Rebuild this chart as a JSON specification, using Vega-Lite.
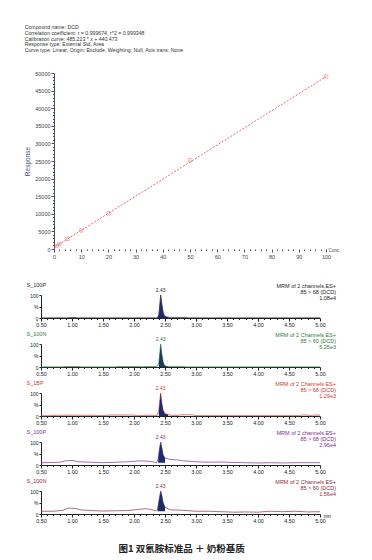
{
  "$schema": "https://vega.github.io/schema/vega-lite/v6.json",
  "padding": {"left": 24, "top": 25, "right": 10, "bottom": 4},
  "config": {
    "view": {"stroke": null},
    "font": "Liberation Sans",
    "axis": {"grid": false, "labelFont": "Liberation Sans", "titleFont": "Liberation Sans"}
  },
  "title": {"text": "图1  双氰胺标准品 ＋ 奶粉基质", "orient": "bottom", "anchor": "middle", "font": "Noto Sans CJK SC", "fontSize": 9.5, "fontWeight": "bold", "color": "#222", "offset": 20},
  "datasets": {
    "cal": [
      {"conc": 1, "resp": 930}, {"conc": 2, "resp": 1450}, {"conc": 5, "resp": 2900},
      {"conc": 10, "resp": 5250}, {"conc": 20, "resp": 10100}, {"conc": 50, "resp": 25200}, {"conc": 100, "resp": 49000}
    ],
    "fit": [{"conc": 0.6, "resp": 730}, {"conc": 100, "resp": 48963}],
    "chrom": [
      {"p":1,"t":0.5,"i":0.5},{"p":1,"t":0.92,"i":0.5},{"p":1,"t":0.95,"i":1.8},{"p":1,"t":1.0,"i":2},{"p":1,"t":1.07,"i":1.8},{"p":1,"t":1.1,"i":0.5},{"p":1,"t":1.5,"i":0.5},{"p":1,"t":2.0,"i":0.5},{"p":1,"t":2.35,"i":0.5},{"p":1,"t":2.38,"i":1.5},{"p":1,"t":2.4,"i":15},{"p":1,"t":2.42,"i":70},{"p":1,"t":2.43,"i":100,"lab":"2.43"},{"p":1,"t":2.45,"i":60},{"p":1,"t":2.47,"i":25},{"p":1,"t":2.49,"i":10},{"p":1,"t":2.52,"i":5},{"p":1,"t":2.56,"i":3},{"p":1,"t":2.6,"i":2.5},{"p":1,"t":2.75,"i":2.5},{"p":1,"t":2.85,"i":2.5},{"p":1,"t":2.88,"i":0.5},{"p":1,"t":3.5,"i":0.5},{"p":1,"t":4.0,"i":0.5},{"p":1,"t":4.5,"i":0.5},{"p":1,"t":5.0,"i":0.5},
      {"p":2,"t":0.5,"i":0.5},{"p":2,"t":0.85,"i":0.5},{"p":2,"t":0.88,"i":2},{"p":2,"t":1.12,"i":2},{"p":2,"t":1.15,"i":0.5},{"p":2,"t":1.7,"i":0.5},{"p":2,"t":1.73,"i":2},{"p":2,"t":2.1,"i":2},{"p":2,"t":2.13,"i":0.5},{"p":2,"t":2.18,"i":2},{"p":2,"t":2.34,"i":2},{"p":2,"t":2.37,"i":1.5},{"p":2,"t":2.4,"i":15},{"p":2,"t":2.42,"i":70},{"p":2,"t":2.43,"i":100,"lab":"2.43"},{"p":2,"t":2.45,"i":55},{"p":2,"t":2.47,"i":22},{"p":2,"t":2.49,"i":8},{"p":2,"t":2.52,"i":3},{"p":2,"t":2.55,"i":2.5},{"p":2,"t":2.8,"i":2.5},{"p":2,"t":2.83,"i":0.5},{"p":2,"t":3.5,"i":0.5},{"p":2,"t":4.0,"i":0.5},{"p":2,"t":4.5,"i":0.5},{"p":2,"t":5.0,"i":0.5},
      {"p":3,"t":0.5,"i":1},{"p":3,"t":0.62,"i":1},{"p":3,"t":0.65,"i":3},{"p":3,"t":0.85,"i":3},{"p":3,"t":0.9,"i":3.5},{"p":3,"t":1.1,"i":3.5},{"p":3,"t":1.15,"i":3},{"p":3,"t":1.4,"i":3},{"p":3,"t":1.45,"i":1.5},{"p":3,"t":1.55,"i":1.5},{"p":3,"t":1.58,"i":4},{"p":3,"t":2.0,"i":4},{"p":3,"t":2.03,"i":1.5},{"p":3,"t":2.15,"i":1.5},{"p":3,"t":2.18,"i":3},{"p":3,"t":2.33,"i":3},{"p":3,"t":2.37,"i":2},{"p":3,"t":2.4,"i":20},{"p":3,"t":2.42,"i":75},{"p":3,"t":2.43,"i":100,"lab":"2.43"},{"p":3,"t":2.45,"i":55},{"p":3,"t":2.47,"i":25},{"p":3,"t":2.5,"i":10},{"p":3,"t":2.55,"i":6},{"p":3,"t":2.6,"i":3},{"p":3,"t":2.72,"i":3},{"p":3,"t":2.75,"i":5},{"p":3,"t":2.95,"i":5},{"p":3,"t":2.98,"i":1.5},{"p":3,"t":3.5,"i":1.5},{"p":3,"t":4.0,"i":1.5},{"p":3,"t":4.68,"i":1.5},{"p":3,"t":4.7,"i":4},{"p":3,"t":4.8,"i":4},{"p":3,"t":4.83,"i":1.5},{"p":3,"t":4.88,"i":1.5},{"p":3,"t":4.9,"i":4},{"p":3,"t":5.0,"i":4},
      {"p":4,"t":0.5,"i":10},{"p":4,"t":0.7,"i":11},{"p":4,"t":0.8,"i":12},{"p":4,"t":0.9,"i":18},{"p":4,"t":1.0,"i":20},{"p":4,"t":1.1,"i":14},{"p":4,"t":1.3,"i":12},{"p":4,"t":1.5,"i":10},{"p":4,"t":1.7,"i":12},{"p":4,"t":1.9,"i":14},{"p":4,"t":2.0,"i":16},{"p":4,"t":2.1,"i":18},{"p":4,"t":2.2,"i":17},{"p":4,"t":2.3,"i":14},{"p":4,"t":2.36,"i":10},{"p":4,"t":2.39,"i":25},{"p":4,"t":2.41,"i":70},{"p":4,"t":2.43,"i":100,"lab":"2.43"},{"p":4,"t":2.45,"i":75},{"p":4,"t":2.47,"i":45},{"p":4,"t":2.5,"i":30},{"p":4,"t":2.55,"i":26},{"p":4,"t":2.6,"i":24},{"p":4,"t":2.7,"i":22},{"p":4,"t":2.8,"i":18},{"p":4,"t":2.9,"i":16},{"p":4,"t":3.0,"i":14},{"p":4,"t":3.2,"i":12},{"p":4,"t":3.4,"i":13},{"p":4,"t":3.6,"i":11},{"p":4,"t":3.8,"i":10},{"p":4,"t":4.0,"i":9},{"p":4,"t":4.2,"i":10},{"p":4,"t":4.4,"i":9},{"p":4,"t":4.6,"i":10},{"p":4,"t":4.8,"i":10},{"p":4,"t":5.0,"i":10},
      {"p":5,"t":0.5,"i":12},{"p":5,"t":0.7,"i":12},{"p":5,"t":0.85,"i":16},{"p":5,"t":0.95,"i":26},{"p":5,"t":1.05,"i":24},{"p":5,"t":1.15,"i":18},{"p":5,"t":1.3,"i":15},{"p":5,"t":1.5,"i":13},{"p":5,"t":1.7,"i":14},{"p":5,"t":1.9,"i":15},{"p":5,"t":2.0,"i":18},{"p":5,"t":2.1,"i":21},{"p":5,"t":2.2,"i":23},{"p":5,"t":2.3,"i":18},{"p":5,"t":2.35,"i":14},{"p":5,"t":2.38,"i":20},{"p":5,"t":2.41,"i":70},{"p":5,"t":2.43,"i":100,"lab":"2.43"},{"p":5,"t":2.45,"i":80},{"p":5,"t":2.47,"i":50},{"p":5,"t":2.5,"i":30},{"p":5,"t":2.55,"i":22},{"p":5,"t":2.6,"i":18},{"p":5,"t":2.8,"i":16},{"p":5,"t":3.0,"i":12},{"p":5,"t":3.2,"i":12},{"p":5,"t":3.4,"i":10},{"p":5,"t":3.6,"i":8},{"p":5,"t":3.8,"i":9},{"p":5,"t":4.0,"i":8},{"p":5,"t":4.2,"i":12},{"p":5,"t":4.4,"i":10},{"p":5,"t":4.6,"i":12},{"p":5,"t":4.8,"i":9},{"p":5,"t":5.0,"i":10}
    ]
  },
  "spacing": 22,
  "vconcat": [
    {
      "width": 285, "height": 176,
      "title": {"text": ["Compound name: DCD", "Correlation coefficient: r = 0.999674, r^2 = 0.999348", "Calibration curve: 485.223 * x + 440.473", "Response type: External Std, Area", "Curve type: Linear, Origin: Exclude, Weighting: Null, Axis trans: None"], "anchor": "start", "frame": "bounds", "fontSize": 5.2, "lineHeight": 5.6, "fontWeight": "normal", "color": "#333", "offset": 18},
      "encoding": {
        "x": {"field": "conc", "type": "quantitative", "scale": {"domain": [-4.78, 100], "nice": false, "zero": false},
          "axis": {"values": [0,2,4,6,8,10,12,14,16,18,20,22,24,26,28,30,32,34,36,38,40,42,44,46,48,50,52,54,56,58,60,62,64,66,68,70,72,74,76,78,80,82,84,86,88,90,92,94,96,98,100],
            "labelExpr": "datum.value % 10 == 0 ? format(datum.value, 'd') : ''", "labelOverlap": false, "labelFlush": false, "domain": false,
            "tickSize": {"condition": {"test": "datum.value % 10 == 0", "value": 3}, "value": 1.5},
            "labelFontSize": 5.5, "labelColor": "#3a3f55", "tickColor": "#4a4f60", "labelPadding": 2,
            "title": "Conc", "titleFontSize": 4.5, "titleFontWeight": "normal", "titleColor": "#3a3f55", "titleAngle": 0, "titleAlign": "left", "titleX": 287, "titleY": 1, "titleBaseline": "middle"}},
        "y": {"field": "resp", "type": "quantitative", "scale": {"domain": [0, 50000], "nice": false},
          "axis": {"offset": -13, "values": [0,1000,2000,3000,4000,5000,6000,7000,8000,9000,10000,11000,12000,13000,14000,15000,16000,17000,18000,19000,20000,21000,22000,23000,24000,25000,26000,27000,28000,29000,30000,31000,32000,33000,34000,35000,36000,37000,38000,39000,40000,41000,42000,43000,44000,45000,46000,47000,48000,49000,50000],
            "labelExpr": "datum.value % 5000 == 0 ? format(datum.value, 'd') : ''", "labelOverlap": false, "labelFlush": false,
            "tickSize": {"condition": {"test": "datum.value % 5000 == 0", "value": 3}, "value": 1.5},
            "labelFontSize": 5.5, "labelColor": "#3a3f55", "domainColor": "#4a4f60", "tickColor": "#4a4f60", "labelPadding": 1,
            "title": "Response", "titleFontSize": 6.5, "titleFontWeight": "normal", "titleColor": "#3d4a8a", "titlePadding": 4}}
      },
      "layer": [
        {"data": {"values": [{}]}, "mark": {"type": "rule", "color": "#4a4f60", "strokeWidth": 1}, "encoding": {"x": {"datum": 0}, "x2": {"datum": 100}, "y": {"datum": 0}}},
        {"data": {"name": "fit"}, "mark": {"type": "line", "color": "#d9434a", "strokeWidth": 0.8, "strokeDash": [2, 1.5]}},
        {"data": {"name": "cal"}, "mark": {"type": "point", "shape": "cross", "angle": 45, "color": "#d9434a", "size": 16, "strokeWidth": 0.7, "filled": false}}
      ]
    },
    {
      "spacing": 3,
      "vconcat": [
        {
          "width": 279, "height": 23,
          "title": {"text": ["MRM of 2 channels,ES+", "85 > 68 (DCD)", "1.08e4"], "anchor": "end", "frame": "group", "align": "right", "color": "#1e1e1e", "fontSize": 5.5, "fontWeight": "normal", "lineHeight": 6, "dx": 16, "offset": -19},
          "data": {"name": "chrom"},
          "transform": [{"filter": "datum.p == 1"}],
          "encoding": {
            "x": {"field": "t", "type": "quantitative", "scale": {"domain": [0.5, 5.0], "nice": false},
              "axis": {"values": [0.5,0.6,0.7,0.8,0.9,1.0,1.1,1.2,1.3,1.4,1.5,1.6,1.7,1.8,1.9,2.0,2.1,2.2,2.3,2.4,2.5,2.6,2.7,2.8,2.9,3.0,3.1,3.2,3.3,3.4,3.5,3.6,3.7,3.8,3.9,4.0,4.1,4.2,4.3,4.4,4.5,4.6,4.7,4.8,4.9,5.0],
                "labelExpr": "round(datum.value*10) % 5 == 0 ? format(datum.value, '.2f') : ''", "labelOverlap": false, "labelFlush": false,
                "tickSize": {"condition": {"test": "round(datum.value*10) % 5 == 0", "value": 3}, "value": 1.5},
                "labelFontSize": 5.5, "labelColor": "#222", "domainColor": "#222", "tickColor": "#222", "labelPadding": 1, "title": null}},
            "y": {"field": "i", "type": "quantitative", "scale": {"domain": [0, 100], "nice": false},
              "axis": {"values": [0, 50, 100], "labelExpr": "datum.value == 50 ? '%' : datum.label", "labelFontSize": 5, "labelColor": "#222", "domainColor": "#222", "tickColor": "#222", "tickSize": 2, "labelPadding": 1,
                "title": "S_100P", "titleAngle": 0, "titleAlign": "left", "titleBaseline": "middle", "titleX": -15, "titleY": -11, "titleFontSize": 5.5, "titleFontWeight": "normal", "titleColor": "#1e1e1e"}}
          },
          "layer": [
            {"mark": {"type": "line", "color": "#1e1e1e", "strokeWidth": 0.7}},
            {"transform": [{"filter": "datum.t >= 2.38 && datum.t <= 2.56"}], "mark": {"type": "area", "color": "#1d2b6b"}, "encoding": {"y2": {"datum": 0}}},
            {"transform": [{"filter": "isValid(datum.lab)"}], "mark": {"type": "text", "dy": -5, "fontSize": 5, "color": "#1e1e1e"}, "encoding": {"text": {"field": "lab"}}}
          ]
        },
        {
          "width": 279, "height": 23,
          "title": {"text": ["MRM of 2 Channels ES+", "85 > 60 (DCD)", "5.25e3"], "anchor": "end", "frame": "group", "align": "right", "color": "#2f7d3c", "fontSize": 5.5, "fontWeight": "normal", "lineHeight": 6, "dx": 16, "offset": -19},
          "data": {"name": "chrom"},
          "transform": [{"filter": "datum.p == 2"}],
          "encoding": {
            "x": {"field": "t", "type": "quantitative", "scale": {"domain": [0.5, 5.0], "nice": false},
              "axis": {"values": [0.5,0.6,0.7,0.8,0.9,1.0,1.1,1.2,1.3,1.4,1.5,1.6,1.7,1.8,1.9,2.0,2.1,2.2,2.3,2.4,2.5,2.6,2.7,2.8,2.9,3.0,3.1,3.2,3.3,3.4,3.5,3.6,3.7,3.8,3.9,4.0,4.1,4.2,4.3,4.4,4.5,4.6,4.7,4.8,4.9,5.0],
                "labelExpr": "round(datum.value*10) % 5 == 0 ? format(datum.value, '.2f') : ''", "labelOverlap": false, "labelFlush": false,
                "tickSize": {"condition": {"test": "round(datum.value*10) % 5 == 0", "value": 3}, "value": 1.5},
                "labelFontSize": 5.5, "labelColor": "#222", "domainColor": "#222", "tickColor": "#222", "labelPadding": 1, "title": null}},
            "y": {"field": "i", "type": "quantitative", "scale": {"domain": [0, 100], "nice": false},
              "axis": {"values": [0, 50, 100], "labelExpr": "datum.value == 50 ? '%' : datum.label", "labelFontSize": 5, "labelColor": "#222", "domainColor": "#222", "tickColor": "#222", "tickSize": 2, "labelPadding": 1,
                "title": "S_100N", "titleAngle": 0, "titleAlign": "left", "titleBaseline": "middle", "titleX": -15, "titleY": -11, "titleFontSize": 5.5, "titleFontWeight": "normal", "titleColor": "#2f7d3c"}}
          },
          "layer": [
            {"mark": {"type": "line", "color": "#2f7d3c", "strokeWidth": 0.7}},
            {"transform": [{"filter": "datum.t >= 2.38 && datum.t <= 2.55"}], "mark": {"type": "area", "color": "#1d3b5b"}, "encoding": {"y2": {"datum": 0}}},
            {"transform": [{"filter": "isValid(datum.lab)"}], "mark": {"type": "text", "dy": -5, "fontSize": 5, "color": "#2f7d3c"}, "encoding": {"text": {"field": "lab"}}}
          ]
        },
        {
          "width": 279, "height": 23,
          "title": {"text": ["MRM of 2 Channels ES+", "85 > 68 (DCD)", "1.29e3"], "anchor": "end", "frame": "group", "align": "right", "color": "#cc3b2b", "fontSize": 5.5, "fontWeight": "normal", "lineHeight": 6, "dx": 16, "offset": -19},
          "data": {"name": "chrom"},
          "transform": [{"filter": "datum.p == 3"}],
          "encoding": {
            "x": {"field": "t", "type": "quantitative", "scale": {"domain": [0.5, 5.0], "nice": false},
              "axis": {"values": [0.5,0.6,0.7,0.8,0.9,1.0,1.1,1.2,1.3,1.4,1.5,1.6,1.7,1.8,1.9,2.0,2.1,2.2,2.3,2.4,2.5,2.6,2.7,2.8,2.9,3.0,3.1,3.2,3.3,3.4,3.5,3.6,3.7,3.8,3.9,4.0,4.1,4.2,4.3,4.4,4.5,4.6,4.7,4.8,4.9,5.0],
                "labelExpr": "round(datum.value*10) % 5 == 0 ? format(datum.value, '.2f') : ''", "labelOverlap": false, "labelFlush": false,
                "tickSize": {"condition": {"test": "round(datum.value*10) % 5 == 0", "value": 3}, "value": 1.5},
                "labelFontSize": 5.5, "labelColor": "#222", "domainColor": "#222", "tickColor": "#222", "labelPadding": 1, "title": null}},
            "y": {"field": "i", "type": "quantitative", "scale": {"domain": [0, 100], "nice": false},
              "axis": {"values": [0, 50, 100], "labelExpr": "datum.value == 50 ? '%' : datum.label", "labelFontSize": 5, "labelColor": "#222", "domainColor": "#222", "tickColor": "#222", "tickSize": 2, "labelPadding": 1,
                "title": "S_1BP", "titleAngle": 0, "titleAlign": "left", "titleBaseline": "middle", "titleX": -15, "titleY": -11, "titleFontSize": 5.5, "titleFontWeight": "normal", "titleColor": "#cc3b2b"}}
          },
          "layer": [
            {"mark": {"type": "line", "color": "#cc3b2b", "strokeWidth": 0.7}},
            {"transform": [{"filter": "datum.t >= 2.38 && datum.t <= 2.55"}], "mark": {"type": "area", "color": "#1d2b6b"}, "encoding": {"y2": {"datum": 0}}},
            {"transform": [{"filter": "isValid(datum.lab)"}], "mark": {"type": "text", "dy": -5, "fontSize": 5, "color": "#cc3b2b"}, "encoding": {"text": {"field": "lab"}}}
          ]
        },
        {
          "width": 279, "height": 23,
          "title": {"text": ["MRM of 2 channels,ES+", "85 > 68 (DCD)", "2.96e4"], "anchor": "end", "frame": "group", "align": "right", "color": "#7d2e8e", "fontSize": 5.5, "fontWeight": "normal", "lineHeight": 6, "dx": 16, "offset": -19},
          "data": {"name": "chrom"},
          "transform": [{"filter": "datum.p == 4"}],
          "encoding": {
            "x": {"field": "t", "type": "quantitative", "scale": {"domain": [0.5, 5.0], "nice": false},
              "axis": {"values": [0.5,0.6,0.7,0.8,0.9,1.0,1.1,1.2,1.3,1.4,1.5,1.6,1.7,1.8,1.9,2.0,2.1,2.2,2.3,2.4,2.5,2.6,2.7,2.8,2.9,3.0,3.1,3.2,3.3,3.4,3.5,3.6,3.7,3.8,3.9,4.0,4.1,4.2,4.3,4.4,4.5,4.6,4.7,4.8,4.9,5.0],
                "labelExpr": "round(datum.value*10) % 5 == 0 ? format(datum.value, '.2f') : ''", "labelOverlap": false, "labelFlush": false,
                "tickSize": {"condition": {"test": "round(datum.value*10) % 5 == 0", "value": 3}, "value": 1.5},
                "labelFontSize": 5.5, "labelColor": "#222", "domainColor": "#222", "tickColor": "#222", "labelPadding": 1, "title": null}},
            "y": {"field": "i", "type": "quantitative", "scale": {"domain": [0, 100], "nice": false},
              "axis": {"values": [0, 50, 100], "labelExpr": "datum.value == 50 ? '%' : datum.label", "labelFontSize": 5, "labelColor": "#222", "domainColor": "#222", "tickColor": "#222", "tickSize": 2, "labelPadding": 1,
                "title": "S_100P", "titleAngle": 0, "titleAlign": "left", "titleBaseline": "middle", "titleX": -15, "titleY": -11, "titleFontSize": 5.5, "titleFontWeight": "normal", "titleColor": "#7d2e8e"}}
          },
          "layer": [
            {"mark": {"type": "line", "color": "#7d2e8e", "strokeWidth": 0.7}},
            {"transform": [{"filter": "datum.t >= 2.37 && datum.t <= 2.5"}], "mark": {"type": "area", "color": "#1d2b6b"}, "encoding": {"y2": {"datum": 10}}},
            {"transform": [{"filter": "isValid(datum.lab)"}], "mark": {"type": "text", "dy": -5, "fontSize": 5, "color": "#7d2e8e"}, "encoding": {"text": {"field": "lab"}}}
          ]
        },
        {
          "width": 279, "height": 23,
          "title": {"text": ["MRM of 2 Channels ES+", "85 > 60 (DCD)", "1.56e4"], "anchor": "end", "frame": "group", "align": "right", "color": "#8c2d3c", "fontSize": 5.5, "fontWeight": "normal", "lineHeight": 6, "dx": 16, "offset": -19},
          "data": {"name": "chrom"},
          "transform": [{"filter": "datum.p == 5"}],
          "encoding": {
            "x": {"field": "t", "type": "quantitative", "scale": {"domain": [0.5, 5.0], "nice": false},
              "axis": {"values": [0.5,0.6,0.7,0.8,0.9,1.0,1.1,1.2,1.3,1.4,1.5,1.6,1.7,1.8,1.9,2.0,2.1,2.2,2.3,2.4,2.5,2.6,2.7,2.8,2.9,3.0,3.1,3.2,3.3,3.4,3.5,3.6,3.7,3.8,3.9,4.0,4.1,4.2,4.3,4.4,4.5,4.6,4.7,4.8,4.9,5.0],
                "labelExpr": "round(datum.value*10) % 5 == 0 ? format(datum.value, '.2f') : ''", "labelOverlap": false, "labelFlush": false,
                "tickSize": {"condition": {"test": "round(datum.value*10) % 5 == 0", "value": 3}, "value": 1.5},
                "labelFontSize": 5.5, "labelColor": "#222", "domainColor": "#222", "tickColor": "#222", "labelPadding": 1,
                "title": "min", "titleFontSize": 4.5, "titleFontWeight": "normal", "titleColor": "#222", "titleAlign": "left", "titleX": 282, "titleY": 2, "titleBaseline": "middle"}},
            "y": {"field": "i", "type": "quantitative", "scale": {"domain": [0, 100], "nice": false},
              "axis": {"values": [0, 50, 100], "labelExpr": "datum.value == 50 ? '%' : datum.label", "labelFontSize": 5, "labelColor": "#222", "domainColor": "#222", "tickColor": "#222", "tickSize": 2, "labelPadding": 1,
                "title": "S_100N", "titleAngle": 0, "titleAlign": "left", "titleBaseline": "middle", "titleX": -15, "titleY": -11, "titleFontSize": 5.5, "titleFontWeight": "normal", "titleColor": "#8c2d3c"}}
          },
          "layer": [
            {"mark": {"type": "line", "color": "#8c2d3c", "strokeWidth": 0.7}},
            {"transform": [{"filter": "datum.t >= 2.38 && datum.t <= 2.5"}], "mark": {"type": "area", "color": "#1d2b6b"}, "encoding": {"y2": {"datum": 12}}},
            {"transform": [{"filter": "isValid(datum.lab)"}], "mark": {"type": "text", "dy": -5, "fontSize": 5, "color": "#8c2d3c"}, "encoding": {"text": {"field": "lab"}}}
          ]
        }
      ]
    }
  ]
}
